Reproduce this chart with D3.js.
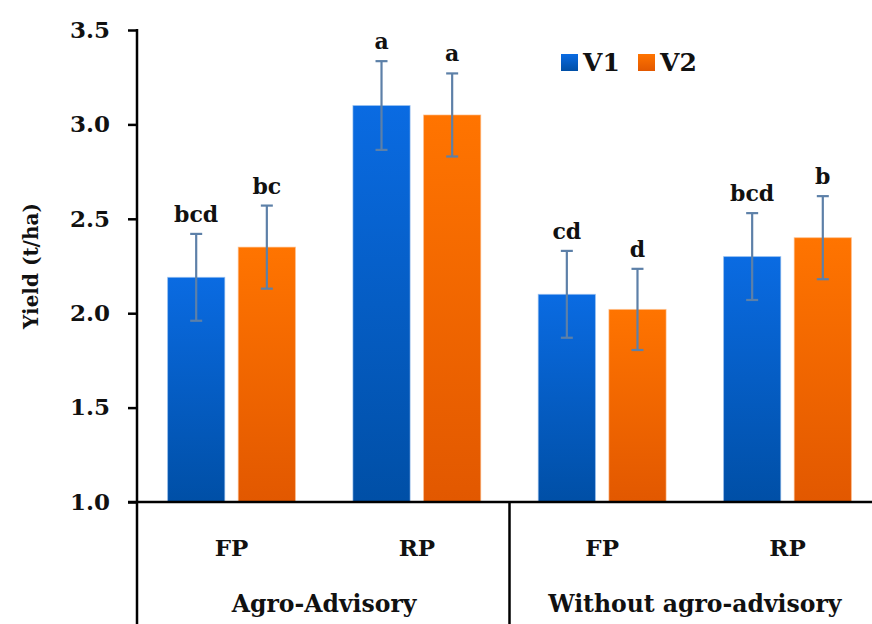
<!DOCTYPE html>
<html>
<head>
<meta charset="utf-8">
<script src="https://cdn.jsdelivr.net/npm/d3@7"></script>
<style>
  body { margin: 0; background: #fff; }
  svg text { font-family: "DejaVu Serif", serif; font-weight: bold; fill: #111; }
</style>
</head>
<body>
<svg id="svg" width="872" height="624"></svg>
<script>
const groups = ["Agro-Advisory", "Without agro-advisory"];
const practices = ["FP", "RP"];
const varieties = ["V1", "V2"];

// one entry per group+practice, V1 then V2
const yieldV1 = [2.19, 3.10, 2.10, 2.30];
const yieldV2 = [2.35, 3.05, 2.02, 2.40];
const errV1 = [0.23, 0.235, 0.23, 0.23];
const errV2 = [0.22, 0.22, 0.215, 0.22];
const lettersV1 = ["bcd", "a", "cd", "bcd"];
const lettersV2 = ["bc", "a", "d", "b"];

const yTicks = [1.0, 1.5, 2.0, 2.5, 3.0, 3.5];

const svg = d3.select("svg#svg");

const margin = { left: 137, top: 30, bottom: 502, right: 882 };

const cats = [];
groups.forEach(function(g) {
  practices.forEach(function(p) { cats.push(g + "|" + p); });
});

const x = d3.scaleBand()
  .domain(cats)
  .range([margin.left, margin.right])
  .paddingInner(0.31)
  .paddingOuter(0.165);

const xSub = d3.scaleBand()
  .domain(varieties)
  .range([0, x.bandwidth()])
  .paddingInner(0.19);

const y = d3.scaleLinear()
  .domain([1.0, 3.5])
  .range([margin.bottom, margin.top]);

// gradients
const defs = svg.append("defs");
const grads = {
  V1: ["#0a6be2", "#004fa6"],
  V2: ["#ff7400", "#e25800"]
};
Object.keys(grads).forEach(function(k) {
  let lg = defs.append("linearGradient")
    .attr("id", "grad" + k)
    .attr("x1", 0).attr("y1", 0).attr("x2", 0).attr("y2", 1);
  lg.append("stop").attr("offset", "0%").attr("stop-color", grads[k][0]);
  lg.append("stop").attr("offset", "100%").attr("stop-color", grads[k][1]);
});

const data = [];
cats.forEach(function(c, i) {
  data.push({ cat: c, v: "V1", value: yieldV1[i], err: errV1[i], letter: lettersV1[i] });
  data.push({ cat: c, v: "V2", value: yieldV2[i], err: errV2[i], letter: lettersV2[i] });
});

const barX = d => x(d.cat) + xSub(d.v);

// bars
svg.append("g").selectAll("rect")
  .data(data)
  .enter()
  .append("rect")
  .attr("x", barX)
  .attr("y", d => y(d.value))
  .attr("width", xSub.bandwidth())
  .attr("height", d => y(1.0) - y(d.value))
  .attr("fill", d => "url(#grad" + d.v + ")")
  .attr("stroke", d => d.v === "V1" ? "#9cc3f0" : "#ffc290")
  .attr("stroke-width", 1)
  .attr("stroke-opacity", 0.6);

// error bars
const eb = svg.append("g")
  .attr("stroke", "#5d80a8")
  .attr("stroke-width", 2.2)
  .attr("fill", "none");

data.forEach(function(d) {
  let cx = barX(d) + xSub.bandwidth() / 2;
  let top = y(d.value + d.err);
  let bot = y(d.value - d.err);
  eb.append("line").attr("x1", cx).attr("x2", cx).attr("y1", top).attr("y2", bot);
  eb.append("line").attr("x1", cx - 6).attr("x2", cx + 6).attr("y1", top).attr("y2", top);
  eb.append("line").attr("x1", cx - 6).attr("x2", cx + 6).attr("y1", bot).attr("y2", bot);
});

// significance letters
svg.append("g").selectAll("text")
  .data(data)
  .enter()
  .append("text")
  .attr("x", d => barX(d) + xSub.bandwidth() / 2)
  .attr("y", d => y(d.value + d.err) - 12)
  .attr("text-anchor", "middle")
  .style("font-size", "22px")
  .text(d => d.letter);

// y axis
const yAxis = d3.axisLeft(y)
  .tickValues(yTicks)
  .tickFormat(d3.format(".1f"))
  .tickSize(9)
  .tickPadding(18);

const ya = svg.append("g")
  .attr("transform", "translate(" + margin.left + ",0)")
  .call(yAxis);
ya.select(".domain").remove();
ya.selectAll("line").attr("stroke", "#000").attr("stroke-width", 2.5);
ya.selectAll("text")
  .style("font-size", "23px")
  .style("font-family", "'DejaVu Serif', serif")
  .style("font-weight", "bold")
  .attr("fill", "#111");

// axis lines
svg.append("line")
  .attr("x1", margin.left).attr("x2", margin.left)
  .attr("y1", y(3.5) - 1).attr("y2", 624)
  .attr("stroke", "#000").attr("stroke-width", 2.5);

svg.append("line")
  .attr("x1", margin.left - 9).attr("x2", 872)
  .attr("y1", y(1.0)).attr("y2", y(1.0))
  .attr("stroke", "#000").attr("stroke-width", 2.5);

// divider between groups
const divX = (x(cats[1]) + x.bandwidth() + x(cats[2])) / 2;
svg.append("line")
  .attr("x1", divX).attr("x2", divX)
  .attr("y1", y(1.0)).attr("y2", 624)
  .attr("stroke", "#000").attr("stroke-width", 2.5);

// practice labels
svg.append("g").selectAll("text")
  .data(cats)
  .enter()
  .append("text")
  .attr("x", d => x(d) + x.bandwidth() / 2)
  .attr("y", 556)
  .attr("text-anchor", "middle")
  .style("font-size", "23px")
  .text(d => d.split("|")[1]);

// group labels
svg.append("g").selectAll("text")
  .data(groups)
  .enter()
  .append("text")
  .attr("x", function(g) {
    let a = x(g + "|" + practices[0]);
    let b = x(g + "|" + practices[1]) + x.bandwidth();
    return (a + b) / 2;
  })
  .attr("y", 612)
  .attr("text-anchor", "middle")
  .style("font-size", "23.5px")
  .text(d => d);

// y label
svg.append("text")
  .attr("transform", "translate(38," + ((y(1.0) + y(3.5)) / 2) + ") rotate(-90)")
  .attr("text-anchor", "middle")
  .style("font-size", "20px")
  .text("Yield (t/ha)");

// legend
const legend = svg.append("g");
const legendX = [561, 638];
varieties.forEach(function(v, i) {
  legend.append("rect")
    .attr("x", legendX[i]).attr("y", 54)
    .attr("width", 17).attr("height", 17)
    .attr("fill", "url(#grad" + v + ")");
  legend.append("text")
    .attr("x", legendX[i] + 22).attr("y", 71)
    .style("font-size", "25px")
    .text(v);
});
</script>
</body>
</html>
